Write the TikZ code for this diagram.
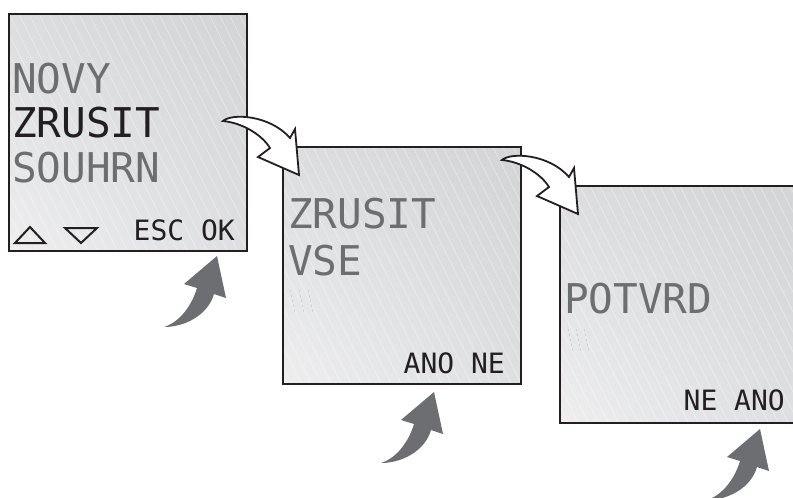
\documentclass[tikz,border=0pt]{standalone}
\usepackage{fontspec}
\usetikzlibrary{shadings}
\newfontfamily\lcd{DejaVu Sans Mono}
\definecolor{lcdgray}{HTML}{6D6E71}
\definecolor{lcdblack}{HTML}{231F20}
\definecolor{arrowgray}{HTML}{6D6E71}
\definecolor{scrUL}{HTML}{DCDDDF}
\definecolor{scrUR}{HTML}{D3D4D6}
\definecolor{scrLL}{HTML}{EEEEEF}
\definecolor{scrLR}{HTML}{DEDFE1}
\tikzset{
  big/.style={font=\lcd\fontsize{41}{41}\selectfont, anchor=base west, inner sep=0pt},
  small/.style={font=\lcd\fontsize{28}{28}\selectfont, anchor=base east, inner sep=0pt, text=lcdblack},
  dim/.style={text=lcdgray},
  lit/.style={text=lcdblack},
  frame/.style={draw=lcdblack, line width=2pt},
  hatch/.style={white, line width=0.6pt, opacity=0.45},
  ghost/.style={draw=lcdgray!45, line width=0.5pt, dash pattern=on 2pt off 3pt},
  whitearrow/.style={fill=white, draw=lcdblack, line width=1.8pt, line join=miter},
  grayarrow/.style={fill=arrowgray},
  tri/.style={draw=lcdblack, line width=2pt, line join=miter},
}
\newcommand\lcdscreen[4]{%
  \begin{scope}
    \clip (#1,#2) rectangle (#3,#4);
    \shade[upper left=scrUL, upper right=scrUR, lower left=scrLL, lower right=scrLR] (#1,#2) rectangle (#3,#4);
    \foreach \i in {-130,-120,...,250} \draw[hatch] (#1+\i,#2) -- ++(130,260);
  \end{scope}
  \draw[frame] (#1,#2) rectangle (#3,#4);
}
\newcommand\whitecurl[2]{%
  \begin{scope}[shift={(#1,#2)}]
    \draw[whitearrow] (0,0) .. controls (9,-8) and (47,-6) .. (67,17) -- (72,8) -- (76,54) -- (35,36) -- (47,27) .. controls (39,14) and (20,2) .. cycle;
  \end{scope}
}
\newcommand\graycurl[2]{%
  \begin{scope}[shift={(#1,#2)}]
    \fill[grayarrow] (0,0) -- (9,42) -- (-3,38) .. controls (-9,59) and (-32,71) .. (-53,71) .. controls (-37,66) and (-25,49) .. (-20,32) -- (-33,28) -- cycle;
  \end{scope}
}
\begin{document}
\begin{tikzpicture}[x=1pt, y=-1pt]
  \useasboundingbox (0,0) rectangle (793,498);
  \clip (0,0) rectangle (793,498);
  \fill[white] (0,0) rectangle (793,498);
  % screens
  \lcdscreen{9}{14}{247}{251}
  \lcdscreen{283}{147}{521}{384}
  \lcdscreen{560}{186}{800}{423}
  % screen 1 texts
  \node[big, dim] (novy) at (12,93) {NOVY};
  \node[big, lit] (zrusit1) at (12,137) {ZRUSIT};
  \node[big, dim] (souhrn) at (12,182) {SOUHRN};
  \draw[tri] (15,243) -- (45,243) -- (30,227) -- cycle;
  \draw[tri] (65,228) -- (97,228) -- (81,243) -- cycle;
  \node[small] (escok) at (235,240) {ESC OK};
  % screen 2 texts
  \node[big, dim] (zrusit2) at (288,228) {ZRUSIT};
  \node[big, dim] (vse) at (288,275) {VSE};
  \node[small] (anone) at (505,373) {ANO NE};
  \foreach \d in {0,9,18} \draw[ghost] (290+\d,290) -- (295+\d,313);
  % screen 3 texts
  \node[big, dim] (potvrd) at (564,313) {POTVRD};
  \node[small] (neano) at (785,410) {NE ANO};
  \foreach \d in {0,8,16} \draw[ghost] (568+\d,329) -- (573+\d,352);
  % arrows
  \whitecurl{223}{121}
  \whitecurl{502}{160}
  \graycurl{217}{256}
  \graycurl{434}{392}
  \graycurl{760}{429}
\end{tikzpicture}
\end{document}
